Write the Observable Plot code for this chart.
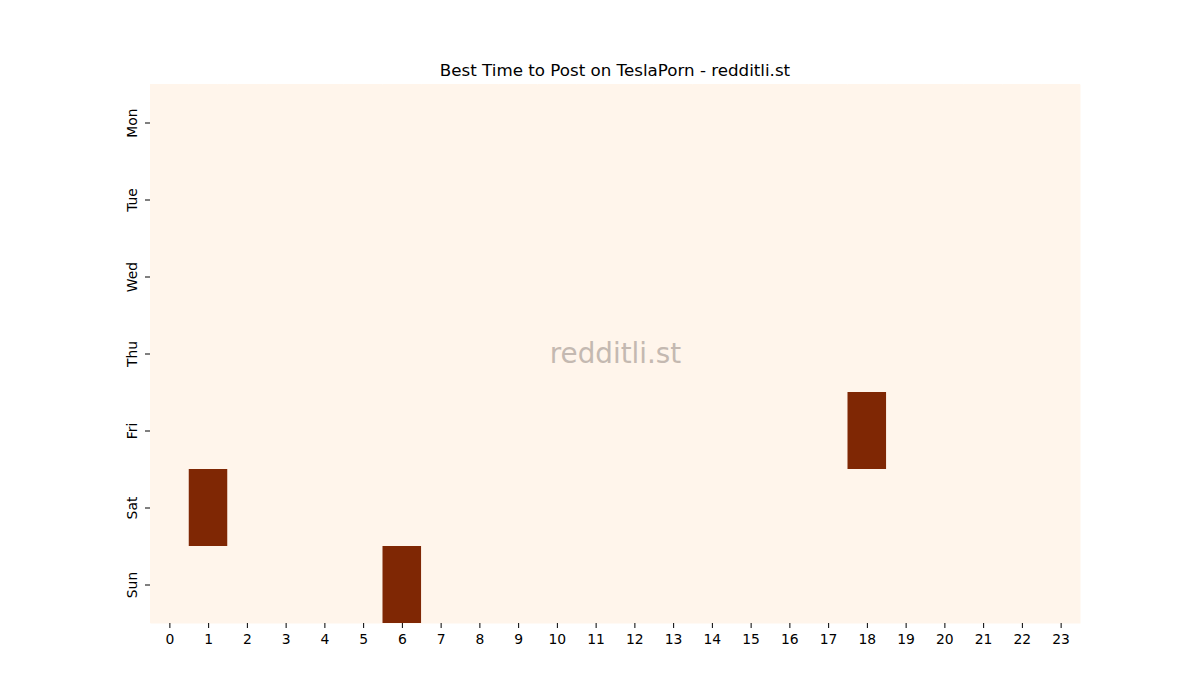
<!DOCTYPE html>
<html>
<head>
<meta charset="utf-8">
<script src="https://cdn.jsdelivr.net/npm/d3@7"></script>
<script src="https://cdn.jsdelivr.net/npm/@observablehq/plot@0.6"></script>
<style>
  body { margin: 0; background: #fff; font-family: "DejaVu Sans", sans-serif; }
  #title { width: 1200px; height: 80px; box-sizing: border-box; padding-top: 60px; padding-left: 30px;
           text-align: center; font-size: 16.7px; line-height: 20px; color: #000; }
  svg { display: block; }
</style>
</head>
<body>
<div id="title">Best Time to Post on TeslaPorn - redditli.st</div>
<div id="chart"></div>
<script>
const days = ["Mon", "Tue", "Wed", "Thu", "Fri", "Sat", "Sun"];
const hours = d3.range(0, 24);
// Non-zero cells: [day, hour, value]
const hotCells = [["Fri", 18, 1], ["Sat", 1, 1], ["Sun", 6, 1]];

const cells = [];
for (const d of days) for (const h of hours) {
  const hit = hotCells.find(c => c[0] === d && c[1] === h);
  cells.push({day: d, hour: h, value: hit ? hit[2] : 0});
}

const chart = Plot.plot({
  width: 1200,
  height: 620,
  marginLeft: 150,
  marginRight: 120,
  marginTop: 4,
  marginBottom: 77,
  style: {fontFamily: "DejaVu Sans, sans-serif", fontSize: "13.9px", color: "#000"},
  x: {domain: hours, padding: 0, round: false, label: null},
  y: {domain: days, padding: 0, round: false, label: null},
  color: {type: "linear", scheme: "Oranges", domain: [0, 1]},
  marks: [
    Plot.frame({fill: d3.interpolateOranges(0), stroke: null}),
    Plot.cell(cells, {x: "hour", y: "day", fill: "value"}),
    Plot.text(["redditli.st"], {frameAnchor: "middle", text: d => d, fill: "#c4b9b1", fontSize: 27.8}),
    Plot.axisX({tickSize: 5, tickPadding: 6, label: null, fontSize: 13.9}),
    Plot.axisY({tickSize: 5, tickPadding: 9, tickRotate: -90, label: null, fontSize: 13.9})
  ]
});
document.getElementById("chart").appendChild(chart);
</script>
</body>
</html>
